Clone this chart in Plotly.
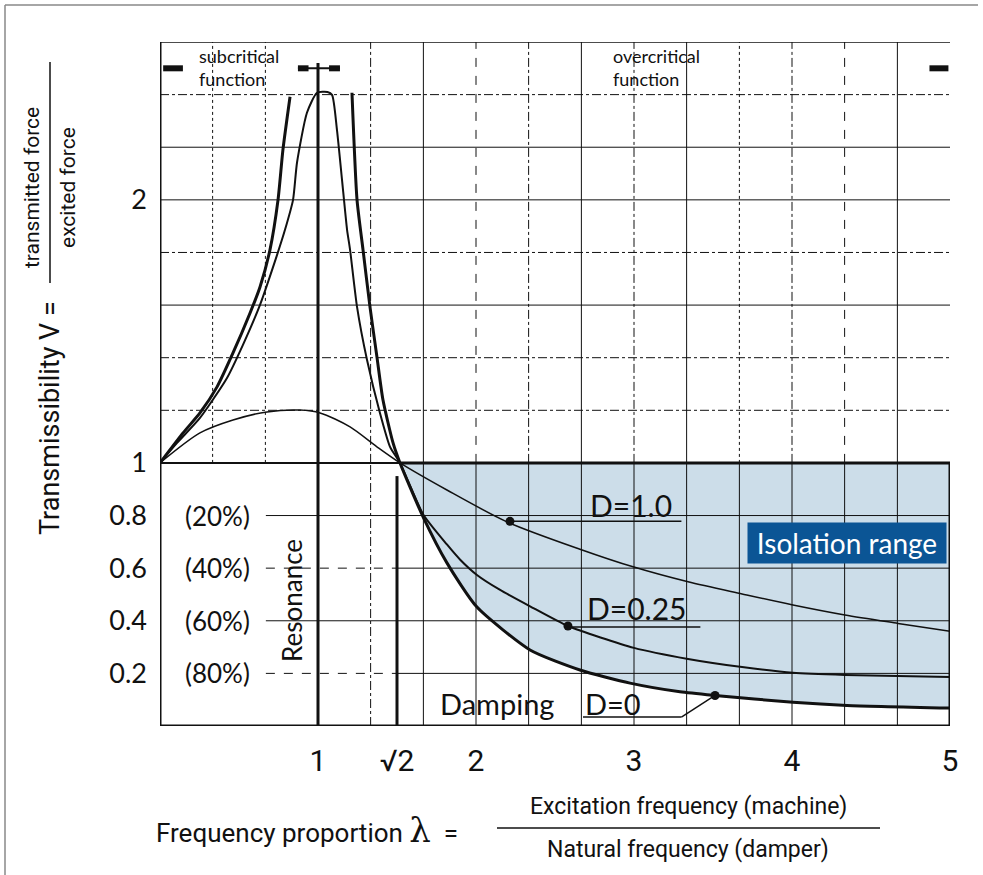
import plotly.graph_objects as go

# ---------------- data (λ, V) ----------------
lam_d0_left = [0.0, 0.146, 0.253, 0.361, 0.462, 0.570, 0.633, 0.696, 0.747, 0.778, 0.823]
v_d0_left = [1.0, 1.114, 1.190, 1.289, 1.418, 1.570, 1.669, 1.810, 2.000, 2.190, 2.392]

lam_d0_right = [1.215, 1.247, 1.285, 1.329, 1.373, 1.411, 1.475, 1.519, 1.665, 1.816, 2.006,
                2.342, 2.658, 2.975, 3.291, 3.513, 4.006, 4.348, 5.0]
v_d0_right = [2.407, 2.000, 1.810, 1.593, 1.403, 1.240, 1.076, 1.000, 0.795, 0.620, 0.452,
              0.289, 0.213, 0.163, 0.130, 0.116, 0.090, 0.078, 0.068]

lam_d025 = [0.0, 0.108, 0.253, 0.424, 0.525, 0.633, 0.741, 0.791, 0.842, 0.867, 0.930, 0.994,
            1.060, 1.089, 1.120, 1.152, 1.184, 1.203, 1.247, 1.310, 1.392, 1.456, 1.519, 1.665,
            1.816, 1.900, 2.006, 2.150, 2.342, 2.582, 3.0, 3.342, 3.684, 4.006, 4.335, 5.0]
v_d025 = [1.0, 1.076, 1.171, 1.323, 1.449, 1.601, 1.791, 1.886, 2.000, 2.141, 2.331, 2.407,
          2.410, 2.399, 2.266, 2.076, 1.886, 1.810, 1.593, 1.392, 1.190, 1.061, 1.000, 0.805,
          0.690, 0.632, 0.574, 0.518, 0.455, 0.380, 0.297, 0.255, 0.224, 0.202, 0.194, 0.186]

lam_d1 = [0.0, 0.253, 0.462, 0.677, 0.886, 1.013, 1.203, 1.373, 1.519, 1.816, 2.196, 2.658,
          2.994, 3.342, 3.684, 4.006, 4.335, 4.671, 5.0]
v_d1 = [1.0, 1.114, 1.163, 1.194, 1.201, 1.190, 1.137, 1.061, 1.000, 0.897, 0.776, 0.672,
        0.605, 0.548, 0.502, 0.460, 0.422, 0.390, 0.360]

isolation_start = 1.519          # where the curves cross V = 1
x_tick_vals = [1, 1.5, 2, 3, 4, 5]
x_tick_text = ["1", "√2", "2", "3", "4", "5"]
y_tick_vals = [0.2, 0.4, 0.6, 0.8, 1, 2]
y_tick_text = ["0.2", "0.4", "0.6", "0.8", "1", "2"]
percent_vals = [0.8, 0.6, 0.4, 0.2]
percent_text = ["(20%)", "(40%)", "(60%)", "(80%)"]
grid_x = [0.333, 0.667, 1.333, 1.667, 2.0, 2.333, 2.667, 3.0, 3.333, 3.667, 4.0, 4.333, 4.667]
grid_y = [0.2, 0.4, 0.6, 0.8, 1.2, 1.4, 1.6, 1.8, 2.0, 2.2, 2.4]
label_points = {"D=1.0": (2.215, 0.778), "D=0.25": (2.582, 0.380), "D=0": (3.513, 0.116)}

# ---------------- styling ----------------
FUT = "Lato, Noto Sans, sans-serif"
COND = "Roboto, Liberation Sans Narrow, sans-serif"
INK = "#111111"
FILL = "#ccdde9"
BOX = "#0b5595"
XMAX, YMAX = 5.0, 2.6

W, H = 983, 875
L, R, T, B = 160, 33, 42, 149
pw, ph = W - L - R, H - T - B


def px(xp):
    return (xp - L) / pw


def py(yp):
    return (H - B - yp) / ph


fig = go.Figure()

# shaded isolation range: between V = 1 and the D=0 curve
fill_lam = [l for l in lam_d0_right if l >= isolation_start]
fill_v = [v for l, v in zip(lam_d0_right, v_d0_right) if l >= isolation_start]
fig.add_trace(go.Scatter(x=[isolation_start, XMAX], y=[1, 1], mode="lines",
                         line=dict(width=0), showlegend=False, hoverinfo="skip"))
fig.add_trace(go.Scatter(x=fill_lam, y=fill_v, mode="lines", fill="tonexty",
                         fillcolor=FILL, line=dict(width=0, shape="spline", smoothing=0.6),
                         showlegend=False, hoverinfo="skip"))

# curves
fig.add_trace(go.Scatter(x=lam_d1, y=v_d1, mode="lines",
                         line=dict(color=INK, width=1.5, shape="spline", smoothing=0.8),
                         showlegend=False))
fig.add_trace(go.Scatter(x=lam_d025, y=v_d025, mode="lines",
                         line=dict(color=INK, width=2, shape="spline", smoothing=0.6),
                         showlegend=False))
fig.add_trace(go.Scatter(x=lam_d0_left, y=v_d0_left, mode="lines",
                         line=dict(color=INK, width=3, shape="spline", smoothing=0.6),
                         showlegend=False))
fig.add_trace(go.Scatter(x=lam_d0_right, y=v_d0_right, mode="lines",
                         line=dict(color=INK, width=3, shape="spline", smoothing=0.6),
                         showlegend=False))

# label dots
fig.add_trace(go.Scatter(x=[p[0] for p in label_points.values()],
                         y=[p[1] for p in label_points.values()], mode="markers",
                         marker=dict(color=INK, size=9, symbol="circle"),
                         showlegend=False))

shapes = []


def seg(x0, y0, x1, y1, w=1, dash="solid", xref="x", yref="y", color=INK):
    shapes.append(dict(type="line", x0=x0, y0=y0, x1=x1, y1=y1, xref=xref, yref=yref,
                       layer="above", line=dict(color=color, width=w, dash=dash)))


# grid
upper_styles = ["dot", "dot", "dashdot", "solid", "dash", "dashdot", "solid", "dashdot",
                "solid", "dot", "dashdot", "dash", "solid"]
for gx, st in zip(grid_x, upper_styles):
    seg(gx, 1, gx, YMAX, 1, st)
    if gx > 1:
        seg(gx, 0, gx, 1, 1, "dashdot" if gx < isolation_start else "solid")
for gy in grid_y:
    if gy < 1:
        seg(0.67, gy, isolation_start, gy, 1, "dash" if gy in (0.6, 0.2) else "solid")
        seg(isolation_start, gy, XMAX, gy, 1)
    else:
        seg(0, gy, XMAX, gy, 1, "dashdot" if gy in (1.2, 1.4, 1.8, 2.4) else "solid")

# frame / emphasised lines
seg(0, 0, 0, YMAX, 3)                      # left axis
seg(0, 0, XMAX, 0, 3)                      # bottom axis
seg(0, YMAX, XMAX, YMAX, 1.5)              # top
seg(XMAX, 0, XMAX, 1, 3)                   # right border of isolation box
seg(0, 1, isolation_start, 1, 2)
seg(isolation_start, 1, XMAX, 1, 3)
seg(1, 0, 1, 2.52, 3)                      # resonance line
seg(1.5, 0, 1.5, 0.95, 3)                  # √2 line
# top markers
seg(0.02, 2.50, 0.145, 2.50, 6)
seg(0.873, 2.50, 1.139, 2.50, 2)
seg(0.873, 2.50, 0.94, 2.50, 6)
seg(1.07, 2.50, 1.139, 2.50, 6)
seg(4.87, 2.50, 4.99, 2.50, 6)
# leader lines under labels
seg(2.215, 0.778, 3.30, 0.778, 1.5)
seg(2.582, 0.376, 3.42, 0.376, 1.5)
seg(2.677, 0.034, 3.30, 0.034, 1.5)
seg(3.30, 0.034, 3.513, 0.116, 1.5)

# outer figure frame and fraction bars (paper coordinates)
seg(px(5), py(5), px(5), py(875), 1.5, xref="paper", yref="paper", color="#888888")
seg(px(5), py(5), px(978), py(5), 1.5, xref="paper", yref="paper", color="#888888")
seg(px(50), py(283), px(50), py(62), 1.5, xref="paper", yref="paper")
seg(px(497), py(828), px(880), py(828), 1.5, xref="paper", yref="paper")

fig.update_layout(shapes=shapes)

ann = []
for v, t in zip(percent_vals, percent_text):
    ann.append(dict(x=0.367, y=v, text=t, showarrow=False,
                    font=dict(family=FUT, size=26, color=INK)))


def pann(x, y, text, size, angle=0):
    return dict(xref="paper", yref="paper", x=px(x), y=py(y), xanchor="center",
                yanchor="middle", text=text, textangle=angle, showarrow=False,
                font=dict(family=COND, size=size, color=INK))


ann += [
    dict(x=0.835, y=0.479, text="Resonance", textangle=-90, showarrow=False,
         font=dict(family=FUT, size=26, color=INK)),
    dict(x=0.234, y=2.504, text="subcritical<br>function", xanchor="left", align="left",
         showarrow=False, font=dict(family=FUT, size=18, color=INK)),
    dict(x=2.854, y=2.504, text="overcritical<br>function", xanchor="left", align="left",
         showarrow=False, font=dict(family=FUT, size=18, color=INK)),
    dict(x=2.709, y=0.84, text="D=1.0", xanchor="left", showarrow=False,
         font=dict(family=FUT, size=30, color=INK)),
    dict(x=2.69, y=0.449, text="D=0.25", xanchor="left", showarrow=False,
         font=dict(family=FUT, size=30, color=INK)),
    dict(x=1.76, y=0.084, text="Damping", xanchor="left", showarrow=False,
         font=dict(family=FUT, size=29, color=INK)),
    dict(x=2.677, y=0.084, text="D=0", xanchor="left", showarrow=False,
         font=dict(family=FUT, size=29, color=INK)),
    dict(x=4.348, y=0.696, text="Isolation range", showarrow=False, bgcolor=BOX,
         width=192, height=34, borderpad=3, font=dict(family=FUT, size=28, color="white")),
    pann(50, 418, "Transmissibility V =", 27, -90),
    pann(32, 188, "transmitted force", 21, -90),
    pann(68, 188, "excited force", 21, -90),
    pann(307, 830, "Frequency proportion "
         "<span style='font-family:DejaVu Serif;font-size:34px'>λ</span>  =", 26),
    pann(688, 806, "Excitation frequency (machine)", 23),
    pann(688, 849, "Natural frequency (damper)", 23),
]

fig.update_layout(
    width=W, height=H, autosize=False,
    margin=dict(l=L, r=R, t=T, b=B, pad=0),
    paper_bgcolor="white", plot_bgcolor="white",
    annotations=ann,
    xaxis=dict(range=[0, XMAX], tickvals=x_tick_vals, ticktext=x_tick_text, showgrid=False,
               zeroline=False, showline=False, ticks="", ticklabelstandoff=14,
               tickfont=dict(family=COND, size=30, color=INK), fixedrange=True),
    yaxis=dict(range=[0, YMAX], tickvals=y_tick_vals, ticktext=y_tick_text, showgrid=False,
               zeroline=False, showline=False, ticks="", ticklabelstandoff=12,
               tickfont=dict(family=FUT, size=27, color=INK), fixedrange=True),
)

fig.write_html("out.html")
